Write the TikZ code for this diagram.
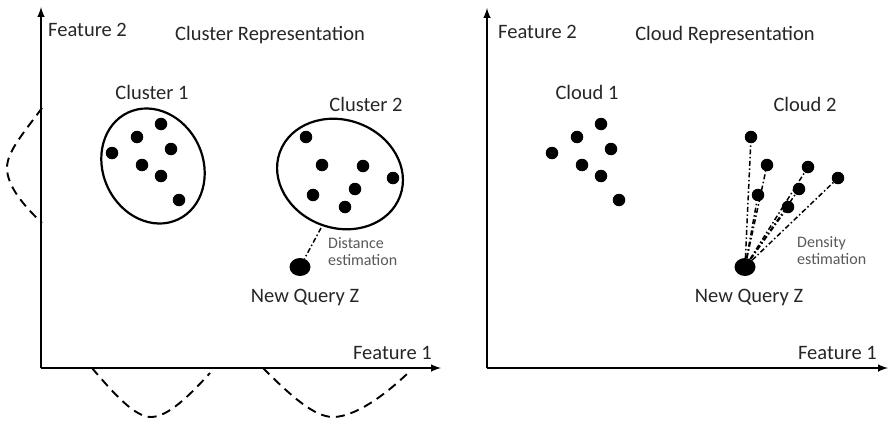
\documentclass[tikz,border=0pt]{standalone}
\usepackage{fontspec}
\setmainfont{Carlito}
\usetikzlibrary{shapes.geometric}
\begin{document}
\begin{tikzpicture}[x=1pt,y=-1pt,
  axis/.style={line width=2.4pt,-latex},
  pt/.style={circle,fill=black,inner sep=0pt,minimum size=12.5pt},
  query/.style={ellipse,fill=black,inner sep=0pt,minimum width=21pt,minimum height=18pt},
  lbl/.style={font=\fontsize{20.5}{24}\selectfont,text=black!85,inner sep=0pt},
  small/.style={font=\fontsize{16}{18}\selectfont,text=black!65,inner sep=0pt,align=left},
  clusterring/.style={draw,line width=2.2pt},
  gauss/.style={line width=1.9pt,dash pattern=on 9pt off 6pt},
  link/.style={line width=1.5pt,dash pattern=on 5pt off 2.5pt on 1.5pt off 2.5pt}]
\useasboundingbox (0,0) rectangle (888,420);

% ---------- left panel: clusters ----------
\coordinate (oL) at (41,368);
\coordinate (yL) at (41,7);
\coordinate (xL) at (441,368);
\draw[axis] (oL) -- (yL);
\draw[axis] (oL) -- (xL);
\node[lbl,anchor=west] (f2L) at (48,30) {Feature 2};
\node[lbl] (titleL) at (270,35) {Cluster Representation};
\node[lbl,anchor=east] (f1L) at (432,353) {Feature 1};

% marginal densities
\draw[gauss] (42,108) .. controls (22,135) and (7,152) .. (7,168)
             .. controls (7,186) and (24,206) .. (42,223);
\draw[gauss] (92,368) .. controls (115,395) and (135,417) .. (151,417)
             .. controls (168,417) and (190,395) .. (210,373);
\draw[gauss] (263,368) .. controls (290,395) and (314,417) .. (333,417)
             .. controls (355,417) and (385,395) .. (408,373);

\node[lbl] (c1) at (152,92) {Cluster 1};
\node[lbl] (c2) at (366,104) {Cluster 2};
\draw[clusterring,rotate around={25:(153,166)}] (153,166) ellipse [x radius=50, y radius=59];
\draw[clusterring,rotate around={-20:(340,174)}] (340,174) ellipse [x radius=64, y radius=54];

\foreach \n/\x/\y in {a1/161/124,a2/137/137,a3/112/153,a4/171/149,a5/142/165,a6/161/176,a7/179/200,
                      b1/306/137,b2/322/165,b3/363/166,b4/393/178,b5/313/195,b6/355/189,b7/345/207}
  \node[pt] (\n) at (\x,\y) {};

\node[query] (zL) at (300,267) {};
\coordinate (edge2) at (321,228);
\draw[link] (edge2) -- (zL);
\node[small,anchor=west] (distL) at (328,252) {Distance\\[-1pt]estimation};
\node[lbl] (qL) at (305,297) {New Query Z};

% ---------- right panel: clouds ----------
\coordinate (oR) at (487,368);
\coordinate (yR) at (487,8);
\coordinate (xR) at (888,368);
\draw[axis] (oR) -- (yR);
\draw[axis] (oR) -- (xR);
\node[lbl,anchor=west] (f2R) at (498,32) {Feature 2};
\node[lbl] (titleR) at (725,35) {Cloud Representation};
\node[lbl,anchor=east] (f1R) at (877,353) {Feature 1};

\node[lbl] (d1) at (587,92) {Cloud 1};
\node[lbl] (d2) at (805,104) {Cloud 2};

\foreach \n/\x/\y in {p1/601/124,p2/577/137,p3/552/153,p4/611/149,p5/582/165,p6/601/176,p7/619/200,
                      q1/751/137,q2/767/165,q3/808/167,q4/838/178,q5/758/195,q6/799/189,q7/788/207}
  \node[pt] (\n) at (\x,\y) {};

\node[query] (zR) at (745,267) {};
\foreach \n in {q1,q2,q3,q4,q5,q6,q7}
  \draw[link] (zR) -- (\n);
\node[small,anchor=west] (densR) at (797,251) {Density\\[-1pt]estimation};
\node[lbl] (qR) at (749,297) {New Query Z};
\end{tikzpicture}
\end{document}
